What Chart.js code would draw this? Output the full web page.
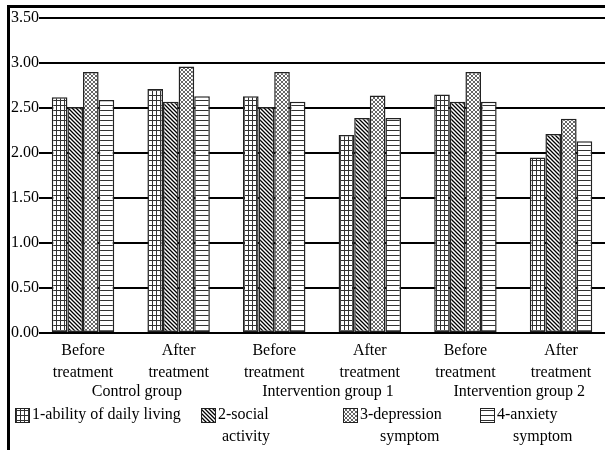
<!DOCTYPE html>
<html>
<head>
<meta charset="utf-8">
<script src="https://cdn.jsdelivr.net/npm/chart.js@4.4.1/dist/chart.umd.min.js"></script>
<style>
  html, body { margin: 0; padding: 0; background: #fff; overflow: hidden; }
</style>
</head>
<body>
<canvas id="chart" width="605" height="450"></canvas>
<script>
// data
const treatmentLabels = [
  ['Before', 'treatment'], ['After', 'treatment'],
  ['Before', 'treatment'], ['After', 'treatment'],
  ['Before', 'treatment'], ['After', 'treatment']
];
const groupNames = ['Control group', 'Intervention group 1', 'Intervention group 2'];
const seriesNames = [
  ['1-ability of daily living'],
  ['2-social', 'activity'],
  ['3-depression', 'symptom'],
  ['4-anxiety', 'symptom']
];
const dailyLiving = [2.62, 2.71, 2.63, 2.20, 2.65, 1.95];
const socialActivity = [2.51, 2.57, 2.51, 2.39, 2.57, 2.21];
const depression = [2.90, 2.96, 2.90, 2.64, 2.90, 2.38];
const anxiety = [2.59, 2.63, 2.57, 2.39, 2.57, 2.13];

const serif = "'Liberation Serif', 'Times New Roman', serif";

// hatch fills
function makePattern(w, h, draw) {
  const c = document.createElement('canvas');
  c.width = w; c.height = h;
  const g = c.getContext('2d');
  g.fillStyle = '#fff';
  g.fillRect(0, 0, w, h);
  draw(g, w, h);
  return g.createPattern(c, 'repeat');
}
const ctx = document.getElementById('chart').getContext('2d');

const gridFill = makePattern(4, 5, (g) => {
  g.fillStyle = '#333';
  g.fillRect(0, 0, 4, 1);
  g.fillRect(0, 0, 1, 5);
});
const diagFill = makePattern(4, 4, (g) => {
  g.strokeStyle = '#000';
  g.lineWidth = 1.3;
  g.beginPath();
  for (let k = -2; k <= 2; k++) {
    g.moveTo(k * 4 - 1, -1);
    g.lineTo(k * 4 + 5, 5);
  }
  g.stroke();
});
const crossFill = makePattern(4, 4, (g) => {
  g.strokeStyle = '#666';
  g.lineWidth = 1;
  g.beginPath();
  for (let k = -2; k <= 2; k++) {
    g.moveTo(k * 4 - 1, -1);
    g.lineTo(k * 4 + 5, 5);
    g.moveTo(k * 4 - 1, 5);
    g.lineTo(k * 4 + 5, -1);
  }
  g.stroke();
});
const horizFill = makePattern(4, 5, (g) => {
  g.fillStyle = '#333';
  g.fillRect(0, 0, 4, 1);
});
const fills = [gridFill, diagFill, crossFill, horizFill];
const seriesData = [dailyLiving, socialActivity, depression, anxiety];

const decor = {
  id: 'decor',
  afterDraw(chart) {
    const c = chart.ctx;
    const xs = chart.scales.x;
    c.save();
    // frame of the figure
    c.fillStyle = '#000';
    c.fillRect(7, 5, 598, 3);
    c.fillRect(7, 5, 3, 445);

    c.font = '16px ' + serif;
    c.textBaseline = 'middle';
    c.textAlign = 'center';
    groupNames.forEach((name, i) => {
      c.fillText(name, xs.getPixelForValue(2 * i + 0.5) + 6, 392);
    });

    // legend
    const boxX = [15, 201, 343, 480];
    const secondLineShift = [0, 4, 20, 16];
    c.textAlign = 'left';
    seriesNames.forEach((lines, i) => {
      c.fillStyle = fills[i];
      c.fillRect(boxX[i], 408, 15, 15);
      c.strokeStyle = '#222';
      c.lineWidth = 1;
      c.strokeRect(boxX[i] + 0.5, 408.5, 14, 14);
      c.fillStyle = '#000';
      lines.forEach((t, j) => {
        c.fillText(t, boxX[i] + 17 + (j ? secondLineShift[i] : 0), 415 + j * 22);
      });
    });
    c.restore();
  }
};

new Chart(ctx, {
  type: 'bar',
  data: {
    datasets: seriesData.map((vals, i) => ({
      label: seriesNames[i].join(' '),
      data: vals.map((v, k) => ({ x: k, y: v })),
      backgroundColor: fills[i],
      borderColor: '#222',
      borderWidth: 1.5,
      borderSkipped: false,
      categoryPercentage: 0.653,
      barPercentage: 1
    }))
  },
  options: {
    responsive: false,
    animation: false,
    layout: { padding: { top: 18, bottom: 59, left: 0, right: 0 } },
    plugins: { legend: { display: false }, tooltip: { enabled: false } },
    scales: {
      x: {
        type: 'linear',
        offset: false,
        min: -0.429,
        max: 5.46,
        afterBuildTicks: (axis) => { axis.ticks = treatmentLabels.map((_, i) => ({ value: i })); },
        grid: { display: false, drawTicks: false, offset: false },
        border: { display: false },
        ticks: {
          autoSkip: false,
          maxRotation: 0,
          padding: 7,
          color: '#000',
          font: { family: serif, size: 16, lineHeight: 1.375 },
          callback: (v) => treatmentLabels[v]
        }
      },
      y: {
        min: 0,
        max: 3.5,
        afterFit: (s) => { s.width = 42; },
        grid: { color: '#000', lineWidth: 2, tickLength: 3 },
        border: { display: false },
        ticks: {
          stepSize: 0.5,
          padding: 0,
          color: '#000',
          font: { family: serif, size: 16 },
          callback: (v) => v.toFixed(2)
        }
      }
    }
  },
  plugins: [decor]
});
</script>
</body>
</html>
